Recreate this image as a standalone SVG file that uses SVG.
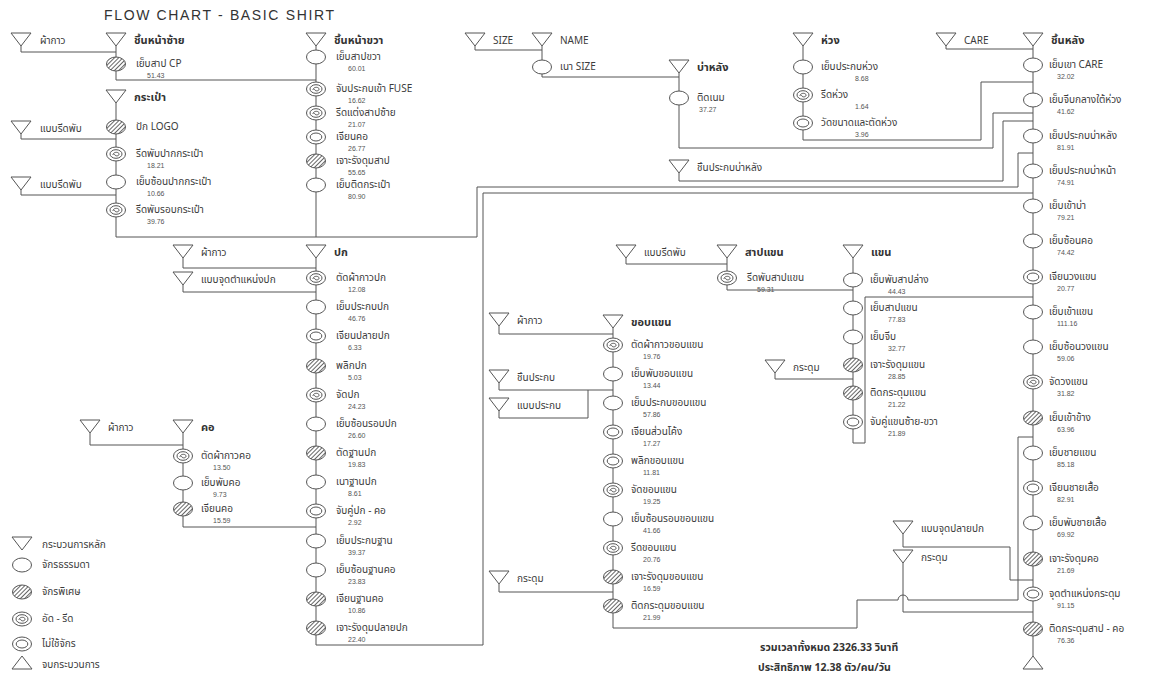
<svg xmlns="http://www.w3.org/2000/svg" xmlns:xlink="http://www.w3.org/1999/xlink" width="1173" height="681" viewBox="0 0 1173 681">
<style>
.ln{fill:none;stroke:#555;stroke-width:1}
.sym{fill:#fff;stroke:#555;stroke-width:1}
.t{font-family:"Noto Sans Thai","Noto Sans","DejaVu Sans",sans-serif;font-size:10px;fill:#3c3c3c}
.h{font-family:"Noto Sans Thai","Noto Sans","DejaVu Sans",sans-serif;font-size:11px;font-weight:bold;fill:#333}
.n{font-family:"Liberation Sans","DejaVu Sans",sans-serif;font-size:7px;fill:#555}
.ttl{font-family:"Liberation Sans",sans-serif;font-size:14px;fill:#333}
.sum{font-family:"Noto Sans Thai","Noto Sans","DejaVu Sans",sans-serif;font-size:10.5px;font-weight:bold;fill:#333}
</style>
<defs>
<pattern id="hp" patternUnits="userSpaceOnUse" width="3" height="3" patternTransform="rotate(45)"><rect width="3" height="3" fill="#fff"/><line x1="0.5" y1="0" x2="0.5" y2="3" stroke="#666" stroke-width="1"/></pattern>
<path id="tri" class="sym" d="M-10,0 H10 L0,13 Z"/>
<g id="plain"><ellipse class="sym" rx="9.5" ry="7"/></g>
<g id="hatch"><ellipse rx="9.5" ry="7" fill="url(#hp)" stroke="#555" stroke-width="1"/></g>
<g id="press"><ellipse class="sym" rx="9.5" ry="7"/><ellipse class="sym" rx="6" ry="4.3"/><path class="ln" d="M-3,1 C-3,-2.5 3.5,-2.5 3,0.5 C2.5,2.5 -1.5,2.3 -1.5,0"/></g>
<g id="nomach"><ellipse class="sym" rx="9.5" ry="7"/><ellipse class="sym" rx="5.8" ry="4"/></g>
</defs>
<rect width="1173" height="681" fill="#fff"/>
<text class="ttl" x="104" y="20" textLength="230" lengthAdjust="spacing">FLOW CHART - BASIC SHIRT</text>

<g id="connectors">
<path class="ln" d="M21,46 V52 H116"/>
<path class="ln" d="M116,46 V80 H316"/>
<path class="ln" d="M21,134 V139 H116"/>
<path class="ln" d="M21,190 V195 H116"/>
<path class="ln" d="M116,103 V237 H477 V187 H1018 V153 H1033"/>
<path class="ln" d="M316,46 V237"/>
<path class="ln" d="M183,258 V268 H316"/>
<path class="ln" d="M183,285 V292 H316"/>
<path class="ln" d="M316,258 V645 H483 V193 H1033"/>
<path class="ln" d="M90,433 V445 H183"/>
<path class="ln" d="M183,433 V527 H316"/>
<path class="ln" d="M475,46 V50 H542"/>
<path class="ln" d="M542,46 V77 H679"/>
<path class="ln" d="M679,73 V148 H993 V113 H1033"/>
<path class="ln" d="M803,46 V140 H981 V82 H1033"/>
<path class="ln" d="M679,173 V181 H1003 V121 H1033"/>
<path class="ln" d="M946,46 V49 H1033"/>
<path class="ln" d="M1033,46 V656"/>
<path class="ln" d="M903,534 V547 H1010 V580 H1033"/>
<path class="ln" d="M903,563 V612 H1033"/>
<path class="ln" d="M613,328 V628 H857 V600 H898 a5,5 0 0 1 10,0 H1018 V437 H1033"/>
<path class="ln" d="M499,326 V334 H613"/>
<path class="ln" d="M499,383 V390 H613"/>
<path class="ln" d="M499,411 V418 H588 V390"/>
<path class="ln" d="M499,584 V592 H613"/>
<path class="ln" d="M626,258 V264 H727"/>
<path class="ln" d="M727,258 V290 H853"/>
<path class="ln" d="M853,258 V443 H865 V297 H1033"/>
<path class="ln" d="M775,373 V379 H853"/>
</g>

<g id="front-left">
<use href="#tri" x="21" y="33"/><text class="t" x="40" y="44">ผ้ากาว</text>
<use href="#tri" x="116" y="33"/><text class="h" x="134" y="44">ชิ้นหน้าซ้าย</text>
<use href="#hatch" x="116" y="64"/><text class="t" x="136" y="67">เย็บสาป CP</text><text class="n" x="147" y="78">51.43</text>
<use href="#tri" x="116" y="90"/><text class="h" x="134" y="101">กระเป๋า</text>
<use href="#tri" x="21" y="121"/><text class="t" x="40" y="132">แบบรีดพับ</text>
<use href="#hatch" x="116" y="127"/><text class="t" x="136" y="130">ปัก LOGO</text>
<use href="#press" x="116" y="154"/><text class="t" x="136" y="157">รีดพับปากกระเป๋า</text><text class="n" x="147" y="168">18.21</text>
<use href="#tri" x="21" y="177"/><text class="t" x="40" y="188">แบบรีดพับ</text>
<use href="#plain" x="116" y="182"/><text class="t" x="136" y="185">เย็บซ้อนปากกระเป๋า</text><text class="n" x="147" y="196">10.66</text>
<use href="#press" x="116" y="210"/><text class="t" x="136" y="213">รีดพับรอบกระเป๋า</text><text class="n" x="147" y="224">39.76</text>
</g>

<g id="front-right">
<use href="#tri" x="316" y="33"/><text class="h" x="334" y="44">ชิ้นหน้าขวา</text>
<use href="#plain" x="316" y="57"/><text class="t" x="336" y="60">เย็บสาปขวา</text><text class="n" x="348" y="71">60.01</text>
<use href="#press" x="316" y="89"/><text class="t" x="336" y="92">จับประกบเข้า FUSE</text><text class="n" x="348" y="103">16.62</text>
<use href="#press" x="316" y="113"/><text class="t" x="336" y="116">รีดแต่งสาปซ้าย</text><text class="n" x="348" y="127">21.07</text>
<use href="#nomach" x="316" y="137"/><text class="t" x="336" y="140">เจียนคอ</text><text class="n" x="348" y="151">26.77</text>
<use href="#hatch" x="316" y="161"/><text class="t" x="336" y="164">เจาะรังดุมสาป</text><text class="n" x="348" y="175">55.65</text>
<use href="#plain" x="316" y="185"/><text class="t" x="336" y="188">เย็บติดกระเป๋า</text><text class="n" x="348" y="199">80.90</text>
</g>

<g id="back-yoke">
<use href="#tri" x="475" y="33"/><text class="t" x="493" y="44">SIZE</text>
<use href="#tri" x="542" y="33"/><text class="t" x="560" y="44">NAME</text>
<use href="#plain" x="542" y="67"/><text class="t" x="560" y="70">เนา SIZE</text>
<use href="#tri" x="679" y="60"/><text class="h" x="697" y="71">บ่าหลัง</text>
<use href="#plain" x="679" y="98"/><text class="t" x="697" y="101">ติดเนม</text><text class="n" x="699" y="112">37.27</text>
<use href="#tri" x="679" y="160"/><text class="t" x="697" y="171">ชิ้นประกบบ่าหลัง</text>
</g>

<g id="loop">
<use href="#tri" x="803" y="33"/><text class="h" x="821" y="44">ห่วง</text>
<use href="#plain" x="803" y="67"/><text class="t" x="821" y="70">เย็บประกบห่วง</text><text class="n" x="855" y="81">8.68</text>
<use href="#press" x="803" y="95"/><text class="t" x="821" y="98">รีดห่วง</text><text class="n" x="855" y="109">1.64</text>
<use href="#nomach" x="803" y="123"/><text class="t" x="821" y="126">วัดขนาดและตัดห่วง</text><text class="n" x="855" y="137">3.96</text>
</g>

<g id="back">
<use href="#tri" x="946" y="33"/><text class="t" x="964" y="44">CARE</text>
<use href="#tri" x="1033" y="33"/><text class="h" x="1051" y="44">ชิ้นหลัง</text>
<use href="#plain" x="1033" y="65"/><text class="t" x="1049" y="68">เย็บเขา CARE</text><text class="n" x="1057" y="79">32.02</text>
<use href="#plain" x="1033" y="100"/><text class="t" x="1049" y="103">เย็บจีบกลางใต้ห่วง</text><text class="n" x="1057" y="114">41.62</text>
<use href="#plain" x="1033" y="136"/><text class="t" x="1049" y="139">เย็บประกบบ่าหลัง</text><text class="n" x="1057" y="150">81.91</text>
<use href="#plain" x="1033" y="171"/><text class="t" x="1049" y="174">เย็บประกบบ่าหน้า</text><text class="n" x="1057" y="185">74.91</text>
<use href="#plain" x="1033" y="206"/><text class="t" x="1049" y="209">เย็บเข้าบ่า</text><text class="n" x="1057" y="220">79.21</text>
<use href="#plain" x="1033" y="241"/><text class="t" x="1049" y="244">เย็บซ้อนคอ</text><text class="n" x="1057" y="255">74.42</text>
<use href="#nomach" x="1033" y="277"/><text class="t" x="1049" y="280">เจียนวงแขน</text><text class="n" x="1057" y="291">20.77</text>
<use href="#plain" x="1033" y="312"/><text class="t" x="1049" y="315">เย็บเข้าแขน</text><text class="n" x="1057" y="326">111.16</text>
<use href="#plain" x="1033" y="347"/><text class="t" x="1049" y="350">เย็บซ้อนวงแขน</text><text class="n" x="1057" y="361">59.06</text>
<use href="#press" x="1033" y="382"/><text class="t" x="1049" y="385">จัดวงแขน</text><text class="n" x="1057" y="396">31.82</text>
<use href="#hatch" x="1033" y="418"/><text class="t" x="1049" y="421">เย็บเข้าข้าง</text><text class="n" x="1057" y="432">63.96</text>
<use href="#plain" x="1033" y="453"/><text class="t" x="1049" y="456">เย็บชายแขน</text><text class="n" x="1057" y="467">85.18</text>
<use href="#nomach" x="1033" y="488"/><text class="t" x="1049" y="491">เจียนชายเสื้อ</text><text class="n" x="1057" y="502">82.91</text>
<use href="#plain" x="1033" y="523"/><text class="t" x="1049" y="526">เย็บพับชายเสื้อ</text><text class="n" x="1057" y="537">69.92</text>
<use href="#hatch" x="1033" y="559"/><text class="t" x="1049" y="562">เจาะรังดุมคอ</text><text class="n" x="1057" y="573">21.69</text>
<use href="#nomach" x="1033" y="594"/><text class="t" x="1049" y="597">จุดตำแหน่งกระดุม</text><text class="n" x="1057" y="608">91.15</text>
<use href="#hatch" x="1033" y="629"/><text class="t" x="1049" y="632">ติดกระดุมสาป - คอ</text><text class="n" x="1057" y="643">76.36</text>
<path class="sym" d="M1023,669 H1043 L1033,656 Z"/>
<use href="#tri" x="903" y="521"/><text class="t" x="921" y="532">แบบจุดปลายปก</text>
<use href="#tri" x="903" y="550"/><text class="t" x="921" y="561">กระดุม</text>
</g>

<g id="collar">
<use href="#tri" x="183" y="245"/><text class="t" x="201" y="256">ผ้ากาว</text>
<use href="#tri" x="316" y="245"/><text class="h" x="334" y="256">ปก</text>
<use href="#tri" x="183" y="272"/><text class="t" x="201" y="283">แบบจุดตำแหน่งปก</text>
<use href="#press" x="316" y="278"/><text class="t" x="336" y="281">ตัดผ้ากาวปก</text><text class="n" x="348" y="292">12.08</text>
<use href="#plain" x="316" y="307"/><text class="t" x="336" y="310">เย็บประกบปก</text><text class="n" x="348" y="321">46.76</text>
<use href="#nomach" x="316" y="336"/><text class="t" x="336" y="339">เจียนปลายปก</text><text class="n" x="348" y="350">6.33</text>
<use href="#hatch" x="316" y="366"/><text class="t" x="336" y="369">พลิกปก</text><text class="n" x="348" y="380">5.03</text>
<use href="#press" x="316" y="395"/><text class="t" x="336" y="398">จัดปก</text><text class="n" x="348" y="409">24.23</text>
<use href="#plain" x="316" y="424"/><text class="t" x="336" y="427">เย็บซ้อนรอบปก</text><text class="n" x="348" y="438">26.60</text>
<use href="#hatch" x="316" y="453"/><text class="t" x="336" y="456">ตัดฐานปก</text><text class="n" x="348" y="467">19.83</text>
<use href="#plain" x="316" y="482"/><text class="t" x="336" y="485">เนาฐานปก</text><text class="n" x="348" y="496">8.61</text>
<use href="#nomach" x="316" y="511"/><text class="t" x="336" y="514">จับคู่ปก - คอ</text><text class="n" x="348" y="525">2.92</text>
<use href="#plain" x="316" y="541"/><text class="t" x="336" y="544">เย็บประกบฐาน</text><text class="n" x="348" y="555">39.37</text>
<use href="#plain" x="316" y="570"/><text class="t" x="336" y="573">เย็บซ้อนฐานคอ</text><text class="n" x="348" y="584">23.83</text>
<use href="#hatch" x="316" y="599"/><text class="t" x="336" y="602">เจียนฐานคอ</text><text class="n" x="348" y="613">10.86</text>
<use href="#hatch" x="316" y="628"/><text class="t" x="336" y="631">เจาะรังดุมปลายปก</text><text class="n" x="348" y="642">22.40</text>
</g>

<g id="neck">
<use href="#tri" x="90" y="420"/><text class="t" x="108" y="431">ผ้ากาว</text>
<use href="#tri" x="183" y="420"/><text class="h" x="201" y="431">คอ</text>
<use href="#press" x="183" y="456"/><text class="t" x="201" y="459">ตัดผ้ากาวคอ</text><text class="n" x="213" y="470">13.50</text>
<use href="#plain" x="183" y="483"/><text class="t" x="201" y="486">เย็บพับคอ</text><text class="n" x="213" y="497">9.73</text>
<use href="#hatch" x="183" y="509"/><text class="t" x="201" y="512">เจียนคอ</text><text class="n" x="213" y="523">15.59</text>
</g>

<g id="cuff">
<use href="#tri" x="499" y="313"/><text class="t" x="517" y="324">ผ้ากาว</text>
<use href="#tri" x="613" y="315"/><text class="h" x="631" y="326">ขอบแขน</text>
<use href="#tri" x="499" y="370"/><text class="t" x="517" y="381">ชิ้นประกบ</text>
<use href="#tri" x="499" y="398"/><text class="t" x="517" y="409">แบบประกบ</text>
<use href="#tri" x="499" y="571"/><text class="t" x="517" y="582">กระดุม</text>
<use href="#press" x="613" y="345"/><text class="t" x="631" y="348">ตัดผ้ากาวขอบแขน</text><text class="n" x="643" y="359">19.76</text>
<use href="#plain" x="613" y="374"/><text class="t" x="631" y="377">เย็บพับขอบแขน</text><text class="n" x="643" y="388">13.44</text>
<use href="#plain" x="613" y="403"/><text class="t" x="631" y="406">เย็บประกบขอบแขน</text><text class="n" x="643" y="417">57.86</text>
<use href="#nomach" x="613" y="432"/><text class="t" x="631" y="435">เจียนส่วนโค้ง</text><text class="n" x="643" y="446">17.27</text>
<use href="#nomach" x="613" y="461"/><text class="t" x="631" y="464">พลิกขอบแขน</text><text class="n" x="643" y="475">11.81</text>
<use href="#press" x="613" y="490"/><text class="t" x="631" y="493">จัดขอบแขน</text><text class="n" x="643" y="504">19.25</text>
<use href="#plain" x="613" y="519"/><text class="t" x="631" y="522">เย็บซ้อนรอบขอบแขน</text><text class="n" x="643" y="533">41.66</text>
<use href="#press" x="613" y="548"/><text class="t" x="631" y="551">รีดขอบแขน</text><text class="n" x="643" y="562">20.76</text>
<use href="#hatch" x="613" y="577"/><text class="t" x="631" y="580">เจาะรังดุมขอบแขน</text><text class="n" x="643" y="591">16.59</text>
<use href="#hatch" x="613" y="606"/><text class="t" x="631" y="609">ติดกระดุมขอบแขน</text><text class="n" x="643" y="620">21.99</text>
</g>

<g id="sleeve-placket">
<use href="#tri" x="626" y="245"/><text class="t" x="644" y="256">แบบรีดพับ</text>
<use href="#tri" x="727" y="245"/><text class="h" x="745" y="256">สาปแขน</text>
<use href="#press" x="727" y="278"/><text class="t" x="747" y="281">รีดพับสาปแขน</text><text class="n" x="757" y="292">59.31</text>
</g>

<g id="sleeve">
<use href="#tri" x="853" y="245"/><text class="h" x="871" y="256">แขน</text>
<use href="#plain" x="853" y="280"/><text class="t" x="870" y="283">เย็บพับสาปล่าง</text><text class="n" x="888" y="294">44.43</text>
<use href="#plain" x="853" y="308"/><text class="t" x="870" y="311">เย็บสาปแขน</text><text class="n" x="888" y="322">77.83</text>
<use href="#plain" x="853" y="337"/><text class="t" x="870" y="340">เย็บจีบ</text><text class="n" x="888" y="351">32.77</text>
<use href="#tri" x="775" y="360"/><text class="t" x="793" y="371">กระดุม</text>
<use href="#hatch" x="853" y="365"/><text class="t" x="870" y="368">เจาะรังดุมแขน</text><text class="n" x="888" y="379">28.85</text>
<use href="#hatch" x="853" y="393"/><text class="t" x="870" y="396">ติดกระดุมแขน</text><text class="n" x="888" y="407">21.22</text>
<use href="#nomach" x="853" y="422"/><text class="t" x="870" y="425">จับคู่แขนซ้าย-ขวา</text><text class="n" x="888" y="436">21.89</text>
</g>

<g id="legend">
<use href="#tri" x="22" y="537"/><text class="t" x="42" y="548">กระบวนการหลัก</text>
<use href="#plain" x="22" y="565"/><text class="t" x="42" y="568">จักรธรรมดา</text>
<use href="#hatch" x="22" y="592"/><text class="t" x="42" y="595">จักรพิเศษ</text>
<use href="#press" x="22" y="619"/><text class="t" x="42" y="622">อัด - รีด</text>
<use href="#nomach" x="22" y="644"/><text class="t" x="42" y="647">ไม่ใช้จักร</text>
<path class="sym" d="M12,669 H32 L22,656 Z"/><text class="t" x="42" y="668">จบกระบวนการ</text>
</g>

<g id="summary">
<text class="sum" x="760" y="651">รวมเวลาทั้งหมด 2326.33 วินาที</text>
<text class="sum" x="758" y="671">ประสิทธิภาพ 12.38 ตัว/คน/วัน</text>
</g>
</svg>
